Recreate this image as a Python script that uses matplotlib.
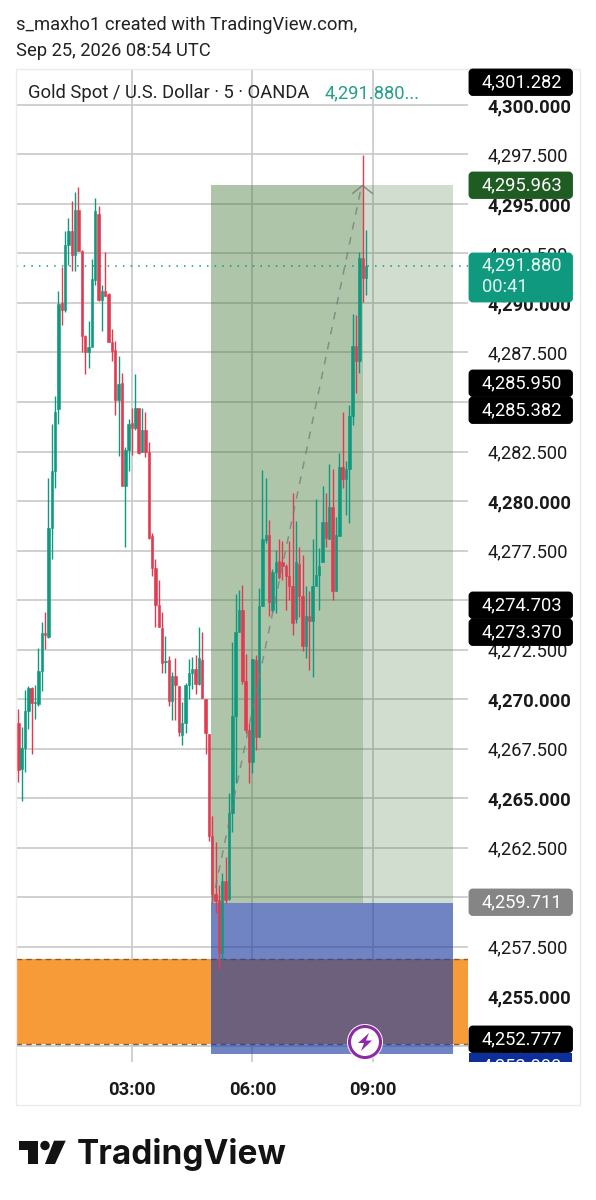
import numpy as np
import matplotlib
matplotlib.use("Agg")
import matplotlib.pyplot as plt
from matplotlib.patches import Rectangle, FancyBboxPatch, Polygon, Circle
from matplotlib.path import Path

plt.rcParams["font.family"] = ["Roboto", "DejaVu Sans"]

# 5 minute candles
opens = [4268.77,4266.48,4267.54,4269.41,4270.57,4269.78,4269.73,4271.43,4273.35,4273.15,
         4278.62,4281.50,4284.65,4290.00,4289.66,4292.95,4293.65,4292.44,4294.71,4292.64,
         4288.34,4287.53,4287.80,4291.18,4294.50,4290.17,4290.59,4290.47,4288.03,4287.64,
         4285.10,4285.96,4280.77,4282.56,4283.94,4283.69,4284.68,4282.46,4283.60,4282.50,
         4278.25,4276.63,4274.73,4273.60,4271.85,4271.97,4269.92,4271.18,4270.67,4268.18,
         4268.77,4270.71,4271.30,4271.50,4270.76,4271.97,4270.02,4268.23,4263.07,4260.13,
         4259.87,4257.18,4260.80,4259.90,4264.25,4269.13,4273.38,4274.47,4270.93,4268.41,
         4266.81,4271.98,4268.10,4274.72,4278.05,4278.30,4274.47,4276.40,4276.99,4276.91,
         4276.74,4276.19,4275.73,4274.05,4276.83,4275.18,4272.67,4274.17,4273.93,4275.73,
         4276.24,4276.94,4278.96,4278.09,4279.69,4275.45,4278.21,4281.70,4281.12,4281.60,
         4284.28,4287.81,4287.05,4292.27,4291.26]
highs = [4269.48,4268.60,4270.45,4270.67,4270.62,4270.70,4272.60,4273.87,4274.41,4281.16,
         4283.89,4285.29,4290.62,4291.80,4293.65,4294.30,4295.13,4295.59,4295.84,4292.69,
         4288.38,4289.10,4292.23,4295.30,4294.88,4290.93,4292.58,4290.50,4288.70,4288.10,
         4287.30,4286.46,4282.75,4284.14,4284.70,4286.41,4284.70,4284.68,4284.48,4282.96,
         4278.40,4277.07,4276.00,4274.38,4273.18,4272.17,4271.38,4272.05,4270.67,4269.87,
         4270.82,4272.02,4272.10,4272.22,4273.65,4273.40,4270.02,4268.23,4264.08,4262.77,
         4260.63,4261.22,4262.00,4265.26,4272.90,4275.28,4275.48,4275.77,4272.28,4268.80,
         4272.00,4272.22,4275.60,4281.57,4281.15,4279.02,4276.57,4277.53,4278.09,4277.97,
         4276.83,4278.00,4280.41,4278.97,4277.67,4277.25,4275.73,4275.45,4278.09,4280.08,
         4277.63,4280.78,4280.39,4281.88,4281.60,4279.20,4282.42,4284.48,4282.00,4284.83,
         4289.46,4289.38,4292.56,4297.46,4293.70]
lows = [4265.79,4264.85,4266.30,4268.48,4267.20,4268.99,4269.66,4270.42,4272.53,4273.06,
        4277.07,4280.66,4283.91,4288.90,4289.53,4291.94,4291.63,4291.60,4292.61,4287.54,
        4286.40,4286.70,4287.80,4290.90,4290.12,4288.57,4290.34,4288.03,4287.08,4284.34,
        4282.29,4280.77,4277.69,4281.50,4282.30,4283.60,4282.37,4282.50,4282.20,4278.06,
        4276.21,4273.65,4273.62,4271.33,4271.33,4269.66,4268.94,4268.94,4268.13,4267.68,
        4268.30,4269.98,4270.49,4270.25,4270.71,4270.03,4267.20,4262.82,4259.70,4259.20,
        4256.37,4256.84,4259.70,4259.87,4263.27,4265.77,4273.38,4270.77,4268.29,4265.77,
        4266.27,4267.42,4268.10,4274.72,4277.90,4274.20,4274.39,4274.33,4276.07,4276.02,
        4274.47,4275.00,4273.24,4273.83,4274.13,4272.42,4272.08,4271.44,4271.10,4275.73,
        4274.50,4276.94,4277.67,4278.09,4275.00,4275.45,4278.21,4280.65,4279.30,4278.88,
        4283.86,4285.45,4286.46,4290.05,4290.42]
closes = [4266.41,4267.54,4269.41,4270.54,4269.78,4269.85,4271.43,4273.32,4273.23,4278.62,
          4281.53,4284.48,4289.95,4289.66,4292.95,4293.65,4292.44,4294.71,4292.61,4288.35,
          4287.53,4287.80,4291.20,4294.63,4290.17,4290.59,4290.37,4288.03,4287.56,4285.10,
          4285.93,4280.77,4282.60,4283.90,4283.69,4284.68,4282.42,4283.60,4282.50,4278.11,
          4276.60,4274.73,4273.65,4271.80,4271.92,4269.92,4271.18,4270.71,4268.35,4268.77,
          4270.71,4271.30,4271.50,4270.76,4272.05,4270.03,4268.27,4263.07,4260.13,4259.79,
          4257.18,4260.80,4259.87,4264.25,4269.13,4273.38,4274.47,4270.93,4268.41,4266.81,
          4272.00,4268.10,4274.72,4278.09,4278.30,4274.89,4276.40,4276.91,4276.15,4276.74,
          4276.19,4275.73,4273.83,4276.94,4275.18,4272.67,4274.17,4273.93,4275.73,4276.24,
          4276.74,4278.96,4278.14,4279.69,4275.45,4278.26,4281.74,4281.12,4281.60,4284.28,
          4287.81,4287.05,4292.27,4291.26,4291.88]

time_bars = [34, 70, 106]
time_labels = ["03:00", "06:00", "09:00"]

price_ticks = [4252.5,4255,4257.5,4260,4262.5,4265,4267.5,4270,4272.5,4275,4277.5,4280,
               4282.5,4285,4287.5,4290,4292.5,4295,4297.5,4300]

last_price = 4291.88
target_price = 4295.963
entry_price = 4259.711
stop_price = 4252.07
zone_top = 4256.85
zone_bottom = 4252.6
pos_start = 57.6
pos_bar_end = 103.1
pos_end = 130.0

tag_texts = ["4,301.282", "4,295.963", "4,285.950", "4,285.382", "4,274.703", "4,273.370", "4,259.711", "4,252.777"]
tag_colors = ["#000000", "#1f5c22", "#000000", "#000000", "#000000", "#000000", "#858585", "#000000"]
tag_tops = [69, 172, 370, 397, 592, 619, 889, 1026]

GREEN = "#0f9a80"
RED = "#e23a50"
W, H = 596, 1200

fig = plt.figure(figsize=(W / 100, H / 100), dpi=100, facecolor="white")

# price pane, pixel box x 16..468, y 69..1062
ax = fig.add_axes([16 / W, 1 - 1062 / H, 452 / W, 993 / H])
ax.set_xlim(-0.69, 134.48)
ax.set_ylim(4251.667, 4301.818)
for s in ax.spines.values():
    s.set_visible(False)
ax.set_axisbelow(True)
ax.grid(True, color="#c8c8c8", lw=1.2)

ax.yaxis.tick_right()
ax.set_yticks(price_ticks)
ylabels = ax.set_yticklabels([f"{p:,.3f}" for p in price_ticks], fontsize=13.2, color="#1a1a1a")
for p, lab in zip(price_ticks, ylabels):
    if p % 5 == 0:
        lab.set_fontweight("bold")
ax.set_xticks(time_bars)
ax.set_xticklabels(time_labels, fontsize=13.2, fontweight="bold", color="#1a1a1a")
ax.tick_params(length=0)
ax.tick_params(axis="y", pad=14)
ax.tick_params(axis="x", pad=14)

# order block and position boxes
ax.axhspan(zone_bottom, zone_top, color="#f79a38", zorder=1.1, lw=0)
ax.hlines([zone_top, zone_bottom], -0.69, 134.48, colors="#8a5a30", lw=1, linestyles=(0, (4, 3)), zorder=1.2)
green_fill = (63 / 255, 120 / 255, 55 / 255, 0.24)
ax.add_patch(Rectangle((pos_start, entry_price), pos_end - pos_start, target_price - entry_price, fc=green_fill, lw=0, zorder=1.3))
ax.add_patch(Rectangle((pos_start, entry_price), pos_bar_end - pos_start, target_price - entry_price, fc=green_fill, lw=0, zorder=1.3))
ax.add_patch(Rectangle((pos_start, stop_price), pos_end - pos_start, entry_price - stop_price,
                       fc=(35 / 255, 65 / 255, 163 / 255, 0.65), lw=0, zorder=1.3))

# candles
x = np.arange(len(opens))
o, h, l, c = map(np.array, (opens, highs, lows, closes))
colors = np.where(c >= o, GREEN, RED)
ax.vlines(x, l, h, colors=colors, lw=1.0, zorder=3)
ax.bar(x, np.abs(c - o), bottom=np.minimum(o, c), width=0.72, color=colors, edgecolor=colors, lw=0.4, zorder=3)

# last price line
ax.axhline(last_price, color=GREEN, lw=1.1, ls=(0, (1, 4)), zorder=2.5)

# projected path from the position tool
ax.plot([pos_start + 0.4, pos_bar_end - 0.4], [entry_price, target_price], color="#7a7a7a", alpha=0.75,
        lw=1.1, ls=(0, (5, 5)), zorder=4)
chevron = Path([(-1, -0.8), (0, 0), (1, -0.8)], [Path.MOVETO, Path.LINETO, Path.LINETO])
ax.plot([pos_bar_end - 0.4], [target_price], marker=chevron, ms=15, mfc="none", mec="#7a7a7a", mew=1.1, alpha=0.8, zorder=4)

# everything else in pixel coordinates
ov = fig.add_axes([0, 0, 1, 1], facecolor="none")
ov.set_xlim(0, W)
ov.set_ylim(H, 0)
ov.axis("off")

ov.add_patch(Rectangle((16, 69), 564, 1036, fc="none", ec="#ebebeb", lw=1.0))

ov.text(16, 25, "s_maxho1 created with TradingView.com,", fontsize=13.2, color="#222222", va="center")
ov.text(16, 51, "Sep 25, 2026 08:54 UTC", fontsize=13.2, color="#222222", va="center")
ov.text(28, 93, "Gold Spot / U.S. Dollar · 5 · OANDA", fontsize=13.2, color="#222222", va="center")
ov.text(325, 93, "4,291.880...", fontsize=13.2, color="#26a08a", va="center")


def tag(top, bottom, color):
    ov.add_patch(FancyBboxPatch((471, top + 2), 99.5, bottom - top - 4, boxstyle="round,pad=0,rounding_size=2",
                                fc=color, ec=color, lw=3.5, mutation_aspect=1))


for txt, col, top in zip(tag_texts, tag_colors, tag_tops):
    tag(top, top + 26.5, col)
    ov.text(482, top + 13.5, txt, fontsize=13.2, color="white", va="center")

# current price tag
tag(253, 302, "#0f9a80")
ov.text(482, 265, "4,291.880", fontsize=13.2, color="#e4f5f1", va="center")
ov.text(482, 287, "00:41", fontsize=13.2, color="#e4f5f1", va="center")

# stop level tag cut off by the pane
clip = Rectangle((469, 1053), 103, 9, transform=ov.transData)
ov.add_patch(Rectangle((469, 1053), 103, 9, fc="#0c2f9c", lw=0))
t = ov.text(482, 1066, "4,252.000", fontsize=13.2, color="white", va="center")
t.set_clip_path(clip)

# alert badge
ov.add_patch(Circle((365, 1042), 18, fc="white", ec="none", zorder=6))
ov.add_patch(Circle((365, 1042), 15.5, fc="white", ec="#8e2aa6", lw=2.2, zorder=6))
ov.add_patch(Polygon([(369, 1033), (358, 1043), (364, 1043), (361, 1051), (372, 1040.5), (366, 1040.5)],
                     fc="#8e2aa6", ec="none", zorder=7))

# logo
ov.add_patch(Polygon([(18.5, 1140.7), (37.5, 1140.7), (37.5, 1164), (28.3, 1164), (28.3, 1150), (18.5, 1150)], fc="#131313", ec="none"))
ov.add_patch(Circle((45, 1145.5), 4.7, fc="#131313", ec="none"))
ov.add_patch(Polygon([(54, 1140.7), (65.7, 1140.7), (55, 1164), (45, 1164)], fc="#131313", ec="none"))
ov.text(77, 1164, "TradingView", family=["Inter", "DejaVu Sans"], fontsize=24, fontweight="bold", color="#131313", va="baseline")

fig.savefig("out.png", dpi=100)
